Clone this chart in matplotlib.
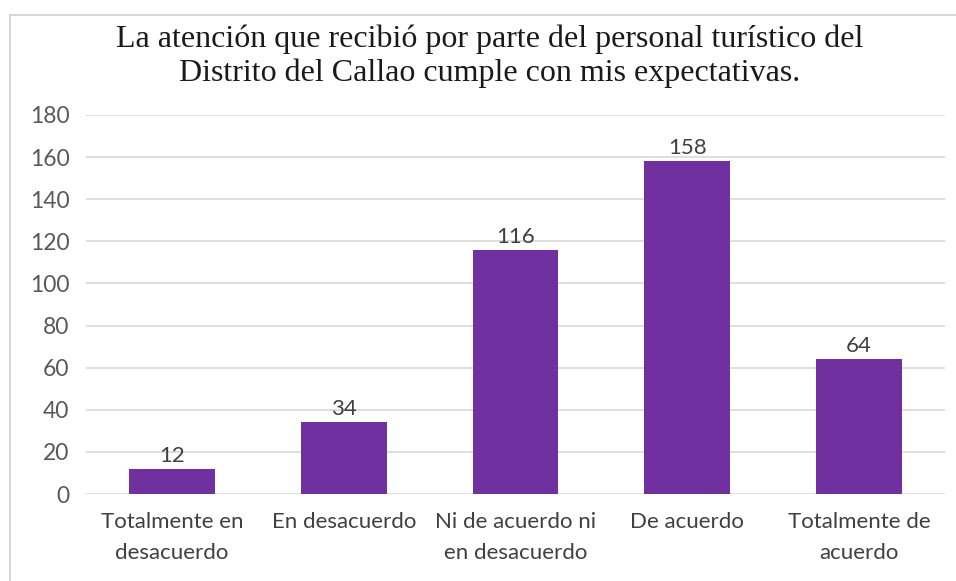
import matplotlib.pyplot as plt
from matplotlib.lines import Line2D

categories = ["Totalmente en\ndesacuerdo", "En desacuerdo", "Ni de acuerdo ni\nen desacuerdo",
              "De acuerdo", "Totalmente de\nacuerdo"]
counts = [12, 34, 116, 158, 64]
y_ticks = list(range(0, 181, 20))
title = ("La atención que recibió por parte del personal turístico del\n"
         "Distrito del Callao cumple con mis expectativas.")

bar_color = "#7030A0"
sans = ["Lato", "DejaVu Sans"]

fig = plt.figure(figsize=(9.56, 5.81), dpi=100)
ax = fig.add_axes([0.09, 0.1497, 0.8985, 0.6524])

x = range(len(categories))
bars = ax.bar(x, counts, width=0.5, color=bar_color, zorder=3)
for b, v in zip(bars, counts):
    ax.text(b.get_x() + b.get_width() / 2, v + 1.5, str(v), ha="center", va="bottom",
            fontsize=16, color="#404040", family=sans)

ax.set_xlim(-0.5, len(categories) - 0.5)
ax.set_ylim(0, 180)
ax.set_yticks(y_ticks)
ax.set_yticklabels([str(t) for t in y_ticks], family=sans, fontsize=16.5, color="#595959")
ax.set_xticks(list(x))
ax.set_xticklabels(categories, family=sans, fontsize=16, color="#404040", linespacing=1.7)
ax.tick_params(axis="both", length=0)
ax.tick_params(axis="y", pad=12)
ax.tick_params(axis="x", pad=13)
ax.grid(axis="y", color="#d9d9d9", linewidth=1.2, zorder=0)
for s in ax.spines.values():
    s.set_visible(False)

fig.text(0.512, 0.958, title, ha="center", va="top", family="Liberation Serif",
         fontsize=23, color="#1a1a1a", linespacing=1.22)

# chart frame
fig.add_artist(Line2D([10 / 956, 10 / 956], [0, 1 - 15 / 581], transform=fig.transFigure,
                      color="#d0d0d0", linewidth=1.2))
fig.add_artist(Line2D([10 / 956, 1], [1 - 15 / 581, 1 - 15 / 581], transform=fig.transFigure,
                      color="#d0d0d0", linewidth=1.2))

fig.savefig("out.png", dpi=100)
